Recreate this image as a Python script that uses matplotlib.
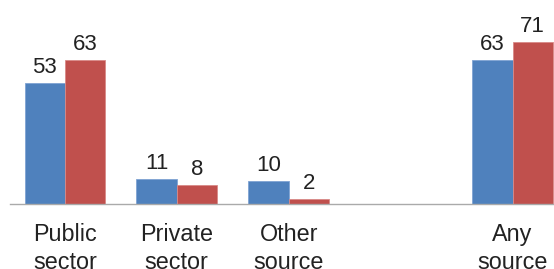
import numpy as np
import matplotlib.pyplot as plt

plt.rcParams["font.family"] = ["Liberation Sans", "DejaVu Sans"]

categories = ["Public\nsector", "Private\nsector", "Other\nsource", "", "Any\nsource"]
blue_vals = [53, 11, 10, None, 63]
red_vals = [63, 8, 2, None, 71]

BLUE = "#4F81BD"
RED = "#C0504D"
TXT = "#222222"

fig = plt.figure(figsize=(5.54, 2.69), dpi=100)
ax = fig.add_axes([10 / 554, (269 - 203.5) / 269, 544 / 554, 203.5 / 269])

x = np.arange(len(categories))
w = 0.36

for i, (b, r) in enumerate(zip(blue_vals, red_vals)):
    if b is None:
        continue
    ax.bar(x[i] - w / 2, b, w, color=BLUE, edgecolor="#7FA3D3", linewidth=0.6)
    ax.bar(x[i] + w / 2, r, w, color=RED, edgecolor="#D88A88", linewidth=0.6)
    for xx, v in ((x[i] - w / 2, b), (x[i] + w / 2, r)):
        ax.annotate(str(v), (xx, v), xytext=(0, 7.2), textcoords="offset points",
                    ha="center", va="baseline", fontsize=16, color=TXT)

ax.set_xlim(-0.49, 4.37)
ax.set_ylim(0, 89.6)
ax.set_xticks(x)
ax.set_xticklabels(categories, fontsize=16.8, color=TXT, linespacing=1.3)
ax.tick_params(axis="x", length=0, pad=14)
ax.set_yticks([])
for side in ("top", "right", "left"):
    ax.spines[side].set_visible(False)
ax.spines["bottom"].set_color("#AAAAAA")
ax.spines["bottom"].set_linewidth(1.0)
ax.patch.set_alpha(0)

fig.savefig("out.png", dpi=100)
